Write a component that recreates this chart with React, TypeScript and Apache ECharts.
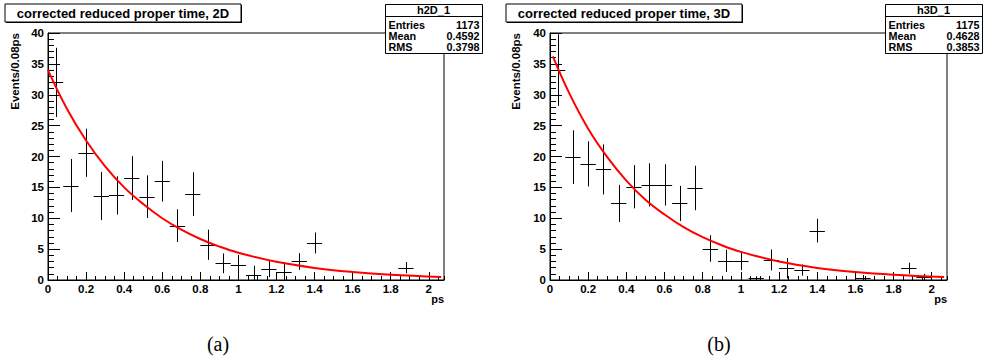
import React, { useEffect, useRef } from 'react';
import * as echarts from 'echarts';

// ---- data ----
const binCenters = [0.04, 0.12, 0.2, 0.28, 0.36, 0.44, 0.52, 0.6, 0.68, 0.76, 0.84, 0.92, 1.0, 1.08, 1.16, 1.24, 1.32, 1.4, 1.48, 1.56, 1.64, 1.72, 1.8, 1.88, 1.96, 2.04];
const binHalfWidth = 0.04;

const counts2D = [32.0, 15.3, 20.6, 13.6, 13.7, 16.5, 13.5, 16.0, 8.8, 13.9, 5.7, 2.7, 2.5, 0.8, 1.8, 1.25, 3.0, 6.0, 0, 0, 0, 0, 0, 2.0, 0, 0];
const errors2D = [5.6, 4.3, 3.9, 3.9, 3.1, 3.55, 3.45, 3.3, 2.65, 3.55, 2.45, 1.6, 1.55, 1.5, 1.35, 1.6, 1.35, 1.7, 0, 0, 0, 0, 0, 0.9, 0, 0];

const counts3D = [34.0, 19.9, 18.8, 17.9, 12.4, 15.1, 15.4, 15.4, 12.4, 14.9, 5.1, 3.1, 3.1, 0.3, 3.25, 1.9, 1.6, 8.0, 0, 0, 0.4, 0, 0, 1.9, 0.5, 0];
const errors3D = [5.8, 4.35, 3.65, 4.05, 3.0, 3.5, 3.5, 3.35, 2.85, 3.6, 2.15, 1.8, 1.5, 0.3, 1.7, 1.65, 0.9, 1.9, 0, 0, 0.4, 0, 0, 0.9, 0.5, 0];

const fitX2D = [0, 0.1, 0.2, 0.3, 0.4, 0.5, 0.6, 0.7, 0.8, 0.9, 1.0, 1.2, 1.4, 1.6, 1.8, 2.065];
const fitY2D = [34.0, 27.7, 22.6, 18.4, 15.0, 12.3, 10.0, 8.15, 6.64, 5.41, 4.41, 2.94, 1.95, 1.3, 0.86, 0.5];
const fitX3D = [0.015, 0.1, 0.2, 0.3, 0.4, 0.5, 0.6, 0.7, 0.8, 0.9, 1.0, 1.2, 1.4, 1.6, 1.8, 2.065];
const fitY3D = [36.2, 30.3, 24.5, 19.9, 16.1, 13.0, 10.6, 8.56, 6.93, 5.62, 4.55, 2.99, 1.96, 1.29, 0.85, 0.48];

const histTitles = ['corrected reduced proper time, 2D', 'corrected reduced proper time, 3D'];
const statNames = ['h2D_1', 'h3D_1'];
const statEntries = ['1173', '1175'];
const statMeans = ['0.4592', '0.4628'];
const statRms = ['0.3798', '0.3853'];
const captions = ['(a)', '(b)'];
const yAxisTitle = 'Events/0.08ps';
const xAxisTitle = 'ps';
const xMax = 2.08;
const yMax = 40;

const FONT = "'Liberation Sans', Arial, Helvetica, sans-serif";

const panels = [
  { counts: counts2D, errors: errors2D, fx: fitX2D, fy: fitY2D, grid: { left: 48, top: 33, width: 396, height: 247 }, off: 0, statX: 385 },
  { counts: counts3D, errors: errors3D, fx: fitX3D, fy: fitY3D, grid: { left: 550, top: 33, width: 397, height: 247 }, off: 501, statX: 885 },
];

function renderErr(params: any, api: any) {
  const x = api.value(0), v = api.value(1), e = api.value(2);
  const lo = Math.max(0, v - e), hi = Math.min(yMax, v + e);
  const a = api.coord([x - binHalfWidth, v]);
  const b = api.coord([x + binHalfWidth, v]);
  const t = api.coord([x, hi]);
  const u = api.coord([x, lo]);
  const st = { stroke: '#000', lineWidth: 1 };
  const ry = Math.round(a[1]) + 0.5;
  const rx = Math.round(t[0]) + 0.5;
  return {
    type: 'group',
    children: [
      { type: 'line', shape: { x1: a[0], y1: ry, x2: b[0], y2: ry }, style: st },
      { type: 'line', shape: { x1: rx, y1: t[1], x2: rx, y2: u[1] }, style: st },
    ],
  };
}

function fmt(v: number) {
  return String(Math.round(v * 100) / 100);
}

function buildOption() {
  const grid: any[] = [];
  const xAxis: any[] = [];
  const yAxis: any[] = [];
  const series: any[] = [];
  const graphic: any[] = [];

  panels.forEach((p, i) => {
    grid.push({ ...p.grid, show: true, borderColor: '#000', borderWidth: 1, backgroundColor: 'transparent' });
    xAxis.push({
      type: 'value', gridIndex: i, position: 'bottom', min: 0, max: xMax, interval: 0.2,
      axisLine: { show: true, onZero: false, lineStyle: { color: '#000', width: 1 } },
      axisTick: { show: true, inside: true, length: 8, lineStyle: { color: '#000' } },
      axisLabel: { show: true, color: '#000', fontWeight: 'bold', fontSize: 11.5, fontFamily: FONT, margin: 3, showMaxLabel: false, formatter: fmt },
      splitLine: { show: false },
    });
    xAxis.push({
      type: 'value', gridIndex: i, position: 'bottom', min: 0, max: xMax, interval: 0.05,
      axisLine: { show: false, onZero: false },
      axisTick: { show: true, inside: true, length: 4, lineStyle: { color: '#000' } },
      axisLabel: { show: false },
      splitLine: { show: false },
    });
    yAxis.push({
      type: 'value', gridIndex: i, min: 0, max: yMax, interval: 5,
      axisLine: { show: true, onZero: false, lineStyle: { color: '#000', width: 1 } },
      axisTick: { show: true, inside: true, length: 12, lineStyle: { color: '#000' } },
      minorTick: { show: true, splitNumber: 5, length: 6, lineStyle: { color: '#000' } },
      axisLabel: { color: '#000', fontWeight: 'bold', fontSize: 11.5, fontFamily: FONT, margin: 4 },
      splitLine: { show: false },
    });

    const errData = binCenters
      .map((x, k) => [x, p.counts[k], p.errors[k]])
      .filter((d) => d[1] > 0);
    series.push({
      type: 'custom', xAxisIndex: 2 * i, yAxisIndex: i, data: errData, renderItem: renderErr, z: 2, silent: true,
    });
    series.push({
      type: 'line', xAxisIndex: 2 * i, yAxisIndex: i,
      data: p.fx.map((x, k) => [x, p.fy[k]]),
      smooth: 0.4, showSymbol: false, symbol: 'none', z: 3, silent: true,
      lineStyle: { color: '#ff0000', width: 2 },
    });

    const o = p.off;
    // title box with shadow
    graphic.push({ type: 'rect', z: 100, shape: { x: o + 6, y: 5, width: 236, height: 18 }, style: { fill: '#000' } });
    graphic.push({ type: 'rect', z: 101, shape: { x: o + 5, y: 4, width: 236, height: 18 }, style: { fill: '#fff', stroke: '#000', lineWidth: 1 } });
    graphic.push({
      type: 'text', z: 102, x: o + 123, y: 13.5,
      style: { text: histTitles[i], font: `bold 13px ${FONT}`, fill: '#000', align: 'center', verticalAlign: 'middle', textAlign: 'center', textVerticalAlign: 'middle' },
    });
    // stats box
    const sx = p.statX;
    const sw = 97;
    graphic.push({ type: 'rect', z: 100, shape: { x: sx + 0.5, y: 4.5, width: sw, height: 49 }, style: { fill: '#fff', stroke: '#000', lineWidth: 1 } });
    graphic.push({ type: 'line', z: 101, shape: { x1: sx, y1: 16.5, x2: sx + sw, y2: 16.5 }, style: { stroke: '#000', lineWidth: 1 } });
    graphic.push({
      type: 'text', z: 102, x: sx + sw / 2, y: 9.5,
      style: { text: statNames[i], font: `bold 11px ${FONT}`, fill: '#000', align: 'center', verticalAlign: 'middle', textAlign: 'center', textVerticalAlign: 'middle' },
    });
    const rows = [['Entries', statEntries[i]], ['Mean', statMeans[i]], ['RMS', statRms[i]]];
    rows.forEach((r, k) => {
      const yy = 24.5 + k * 11.2;
      graphic.push({
        type: 'text', z: 102, x: sx + 3.5, y: yy,
        style: { text: r[0], font: `bold 10.8px ${FONT}`, fill: '#000', align: 'left', verticalAlign: 'middle', textAlign: 'left', textVerticalAlign: 'middle' },
      });
      graphic.push({
        type: 'text', z: 102, x: sx + sw - 2.5, y: yy,
        style: { text: r[1], font: `bold 10.8px ${FONT}`, fill: '#000', align: 'right', verticalAlign: 'middle', textAlign: 'right', textVerticalAlign: 'middle' },
      });
    });
    // axis titles
    graphic.push({
      type: 'text', z: 102, x: o + 15, y: 33, rotation: Math.PI / 2,
      style: { text: yAxisTitle, font: `bold 11.5px ${FONT}`, fill: '#000', align: 'right', verticalAlign: 'middle', textAlign: 'right', textVerticalAlign: 'middle' },
    });
    graphic.push({
      type: 'text', z: 102, x: p.grid.left + p.grid.width, y: 298.5,
      style: { text: xAxisTitle, font: `bold 11px ${FONT}`, fill: '#000', align: 'right', verticalAlign: 'middle', textAlign: 'right', textVerticalAlign: 'middle' },
    });
    // caption
    graphic.push({
      type: 'text', z: 102, x: o + 218, y: 344,
      style: { text: captions[i], font: `20px 'Liberation Serif', 'Times New Roman', serif`, fill: '#000', align: 'center', verticalAlign: 'middle', textAlign: 'center', textVerticalAlign: 'middle' },
    });
  });

  return { animation: false, backgroundColor: '#fff', grid, xAxis, yAxis, series, graphic };
}

export default function App() {
  const ref = useRef<HTMLDivElement>(null);
  useEffect(() => {
    const chart = echarts.init(ref.current as HTMLDivElement, null, { renderer: 'svg' });
    chart.setOption(buildOption() as any);
    return () => chart.dispose();
  }, []);
  return <div ref={ref} style={{ position: 'absolute', left: 0, top: 0, width: 983, height: 361, background: '#fff' }} />;
}
